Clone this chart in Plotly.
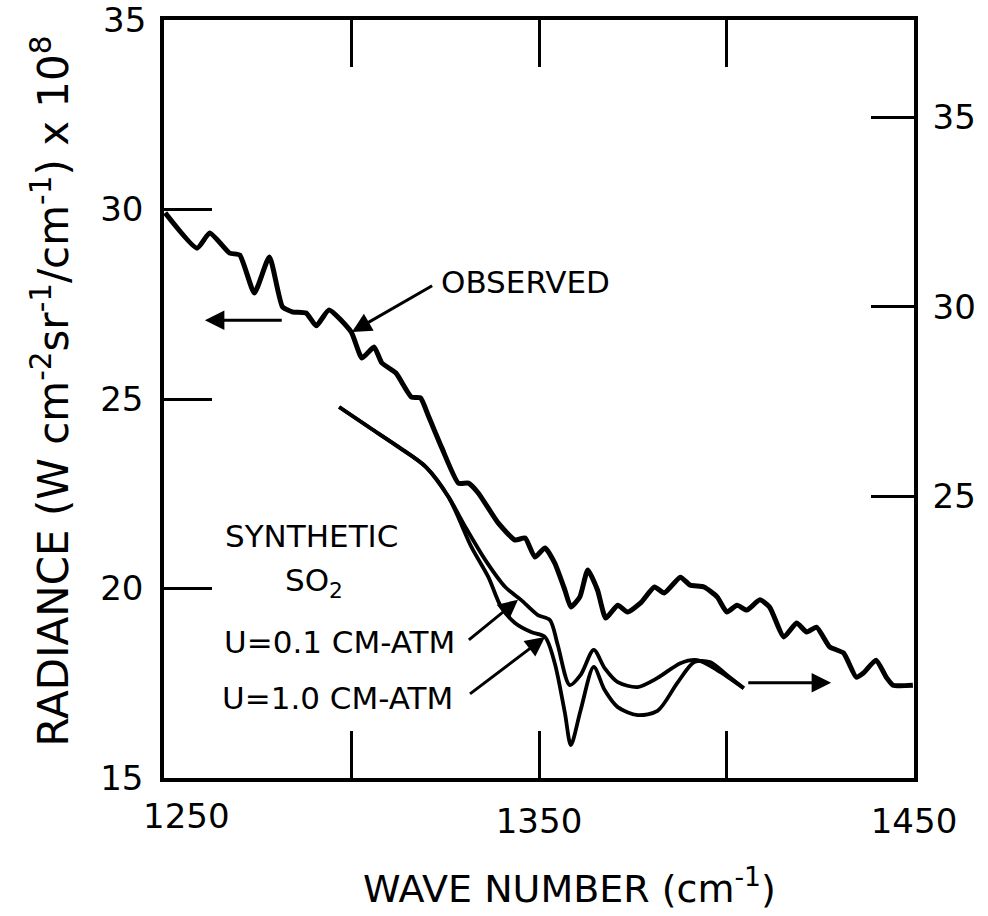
import plotly.graph_objects as go

# Observed spectrum (left axis, radiance x 1e8)
obs_wn = [1250.3, 1258.8, 1262.2, 1267.5, 1270.2, 1274.1, 1278.1, 1281.6, 1284.2, 1287.9,
          1290.6, 1294.0, 1299.9, 1302.8, 1306.0, 1308.1, 1311.8, 1316.0, 1318.4, 1320.6,
          1324.0, 1328.5, 1331.2, 1333.8, 1339.1, 1343.6, 1346.3, 1348.9, 1351.6, 1354.2,
          1356.9, 1358.5, 1360.9, 1363.0, 1365.6, 1367.8, 1371.0, 1373.6, 1377.1, 1380.8,
          1383.4, 1387.7, 1390.3, 1394.0, 1397.5, 1400.1, 1402.8, 1405.4, 1408.9, 1411.5,
          1415.3, 1418.7, 1421.4, 1424.0, 1427.5, 1431.2, 1434.6, 1436.5, 1439.9, 1442.6,
          1444.4, 1449.7]
obs_rad = [29.91, 28.98, 29.38, 28.85, 28.80, 27.80, 28.75, 27.43, 27.30, 27.27,
           26.93, 27.35, 26.77, 26.08, 26.37, 25.95, 25.69, 25.05, 25.03, 24.53,
           23.73, 22.78, 22.78, 22.52, 21.73, 21.28, 21.33, 20.83, 21.07, 20.67,
           19.96, 19.51, 19.78, 20.49, 19.96, 19.22, 19.56, 19.38, 19.62, 20.04,
           19.88, 20.30, 20.09, 20.04, 19.78, 19.38, 19.56, 19.43, 19.70, 19.51,
           18.72, 19.09, 18.85, 18.98, 18.46, 18.30, 17.66, 17.77, 18.11, 17.66,
           17.45, 17.45]

# Synthetic SO2 spectra (right axis)
syn01_wn = [1296.7, 1304.6, 1312.6, 1319.8, 1325.9, 1330.4, 1335.7, 1341.0, 1345.2, 1349.7,
            1352.9, 1355.0, 1358.2, 1361.1, 1364.6, 1367.5, 1371.0, 1376.3, 1381.6, 1387.7,
            1392.2, 1397.5, 1404.6]
syn01_rad = [27.36, 26.83, 26.30, 25.78, 24.98, 24.19, 23.32, 22.61, 22.27, 21.87,
             21.74, 21.08, 20.02, 20.29, 20.95, 20.47, 20.10, 19.97, 20.21, 20.60,
             20.68, 20.42, 19.94]

syn10_wn = [1296.7, 1304.6, 1312.6, 1319.8, 1325.9, 1332.0, 1336.5, 1339.9, 1343.6, 1347.9,
            1351.6, 1354.2, 1356.9, 1358.5, 1361.1, 1364.6, 1367.5, 1371.0, 1376.3, 1381.6,
            1386.9, 1391.4, 1395.6, 1400.1, 1404.6]
syn10_rad = [27.36, 26.83, 26.30, 25.78, 24.98, 23.66, 22.87, 22.08, 21.66, 21.42,
             21.29, 20.60, 19.29, 18.44, 19.36, 20.50, 19.89, 19.44, 19.23, 19.34,
             20.08, 20.63, 20.63, 20.29, 19.94]

x_tickvals = [1250, 1300, 1350, 1400, 1450]
x_ticktext = ["", "", "1350", "", "1450"]
left_tickvals = [15, 20, 25, 30, 35]
left_ticktext = ["15", "20", "25", "30", ""]
right_tickvals = [25, 30, 35]
right_offset = 2.57

FONT = "DejaVu Sans"
INK = "black"

fig = go.Figure()
fig.add_trace(go.Scatter(x=obs_wn, y=obs_rad, mode="lines",
                         line=dict(color=INK, width=5, shape="spline", smoothing=0.5),
                         showlegend=False, hoverinfo="skip"))
fig.add_trace(go.Scatter(x=syn01_wn, y=syn01_rad, mode="lines", yaxis="y2",
                         line=dict(color=INK, width=3.8, shape="spline", smoothing=0.8),
                         showlegend=False, hoverinfo="skip"))
fig.add_trace(go.Scatter(x=syn10_wn, y=syn10_rad, mode="lines", yaxis="y2",
                         line=dict(color=INK, width=3.8, shape="spline", smoothing=0.8),
                         showlegend=False, hoverinfo="skip"))

axis_common = dict(showline=True, linecolor=INK, linewidth=3.5, ticks="inside",
                   tickcolor=INK, tickwidth=3, showgrid=False, zeroline=False,
                   tickfont=dict(family=FONT, size=34, color=INK))

fig.update_layout(
    width=988, height=916,
    margin=dict(l=164, r=70, t=20, b=138),
    paper_bgcolor="white", plot_bgcolor="white",
    xaxis=dict(range=[1250, 1450], tickvals=x_tickvals, ticktext=x_ticktext,
               ticklen=47, mirror="ticks", ticklabelstandoff=10, **axis_common),
    yaxis=dict(range=[15, 35], tickvals=left_tickvals, ticktext=left_ticktext, ticklen=48,
               ticklabelstandoff=10, **axis_common),
    yaxis2=dict(range=[15 + right_offset, 35 + right_offset], tickvals=right_tickvals,
                ticklen=43, overlaying="y", side="right", ticklabelstandoff=8,
                **axis_common),
)

ann = []
# axis titles
ann.append(dict(text="RADIANCE (W cm<sup>-2</sup>sr<sup>-1</sup>/cm<sup>-1</sup>) x 10<sup>8</sup>",
                xref="paper", yref="paper", x=-0.19, y=0.51, textangle=-90,
                showarrow=False, font=dict(family=FONT, size=42, color=INK)))
ann.append(dict(text="WAVE NUMBER (cm<sup>-1</sup>)", xref="paper", yref="paper",
                x=0.54, y=-0.178, showarrow=False,
                font=dict(family=FONT, size=38, color=INK)))
# corner tick labels
ann.append(dict(text="1250", xref="x", yref="paper", x=1256, y=-0.05, yanchor="middle",
                showarrow=False, font=dict(family=FONT, size=34, color=INK)))
ann.append(dict(text="35", xref="paper", yref="y", x=0, y=35, xanchor="right",
                yanchor="middle", xshift=-16, showarrow=False,
                font=dict(family=FONT, size=34, color=INK)))

# curve labels
lab_font = dict(family=FONT, size=31, color=INK)
ann.append(dict(text="OBSERVED", x=1323.2, y=28.09, xanchor="left", showarrow=False, font=lab_font))
ann.append(dict(text="SYNTHETIC", x=1289.3, y=21.39, showarrow=False, font=lab_font))
ann.append(dict(text="SO<sub>2</sub>", x=1290.1, y=20.17, showarrow=False, font=lab_font))
ann.append(dict(text="U=0.1 CM-ATM", x=1328.0, y=18.59, xanchor="right", showarrow=False, font=lab_font))
ann.append(dict(text="U=1.0 CM-ATM", x=1327.5, y=17.11, xanchor="right", showarrow=False, font=lab_font))

# arrows (head at x/y, tail at ax/ay)
def arrow(hx, hy, tx, ty, width=3):
    return dict(x=hx, y=hy, ax=tx, ay=ty, xref="x", yref="y", axref="x", ayref="y",
                text="", showarrow=True, arrowhead=2, arrowsize=1.3,
                arrowwidth=width, arrowcolor=INK)

ann.append(arrow(1260.9, 27.08, 1281.8, 27.08))   # observed -> left axis
ann.append(arrow(1427.9, 17.51, 1405.4, 17.51))   # synthetic -> right axis
ann.append(arrow(1300.1, 26.77, 1321.9, 28.01))   # OBSERVED pointer
ann.append(arrow(1344.4, 19.70, 1330.9, 18.61))   # U=0.1 pointer
ann.append(arrow(1351.6, 18.72, 1331.2, 17.19))   # U=1.0 pointer

fig.update_layout(annotations=ann)
fig.write_html("out.html")
